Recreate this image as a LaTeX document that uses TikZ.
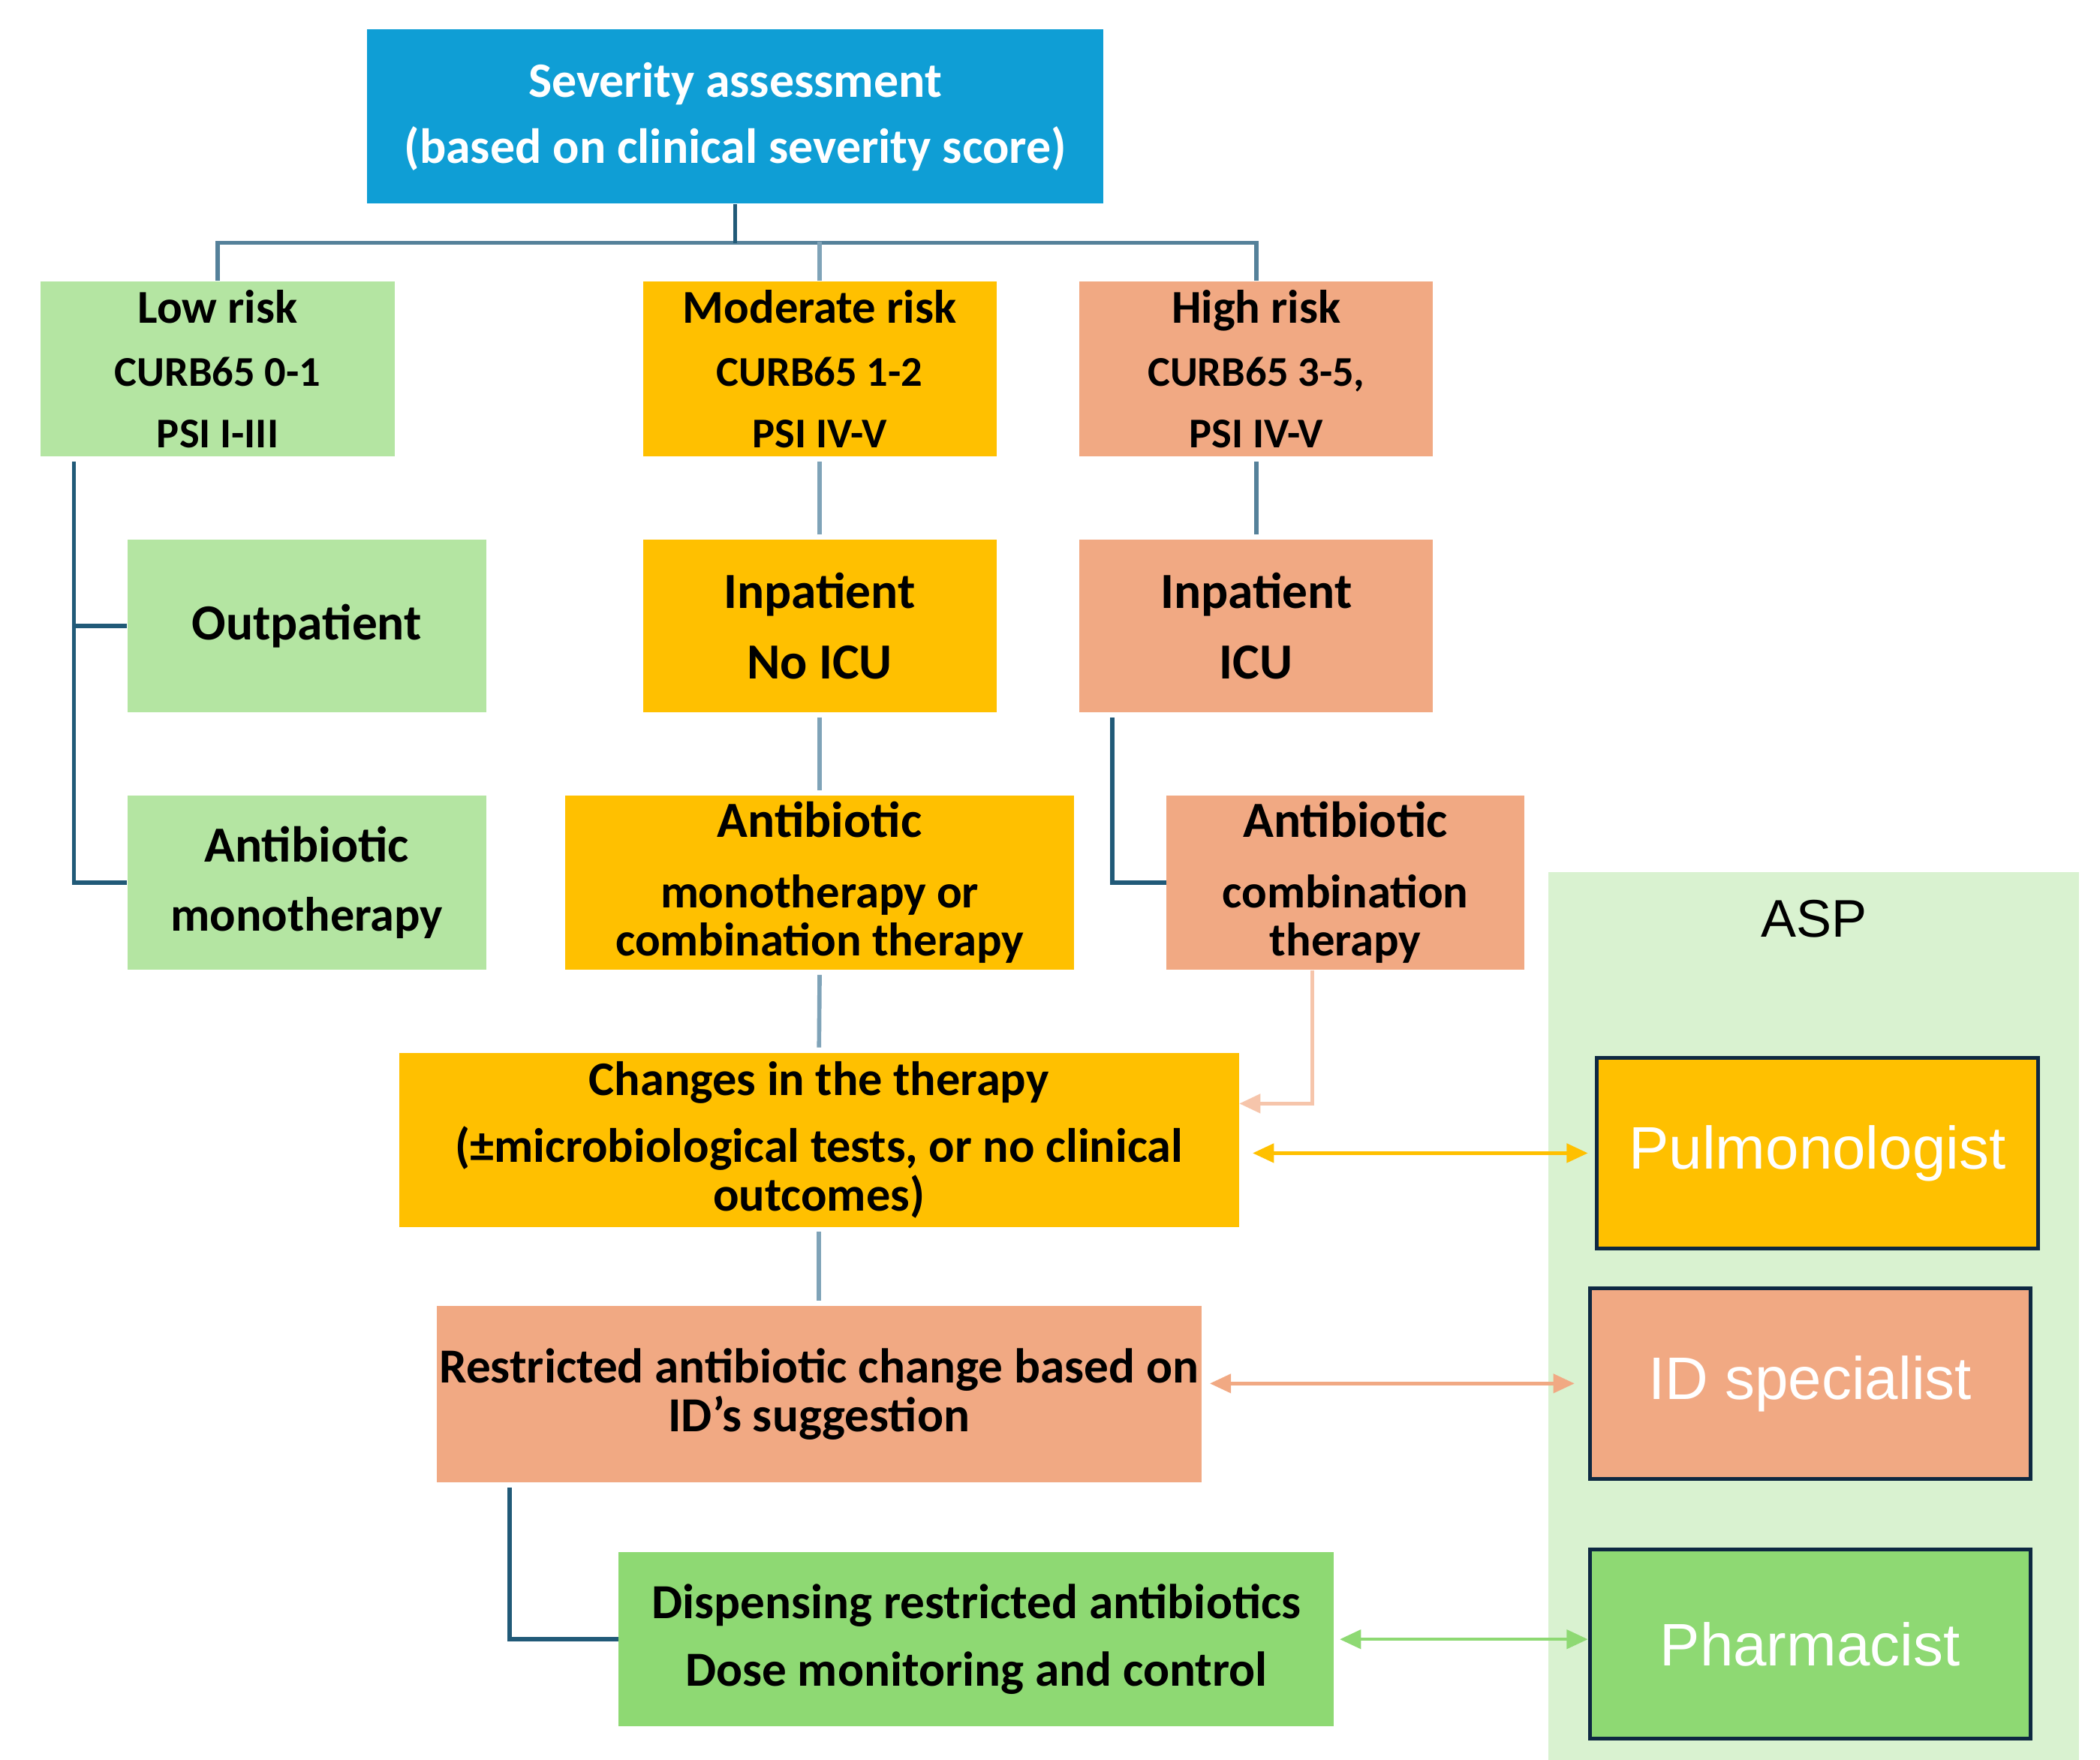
\documentclass[tikz,border=0pt]{standalone}
\usepackage{fontspec}
\setmainfont{Carlito}
\newfontfamily\aspfont{Liberation Sans}
\usetikzlibrary{arrows.meta}
\definecolor{sevblue}{HTML}{0F9ED5}
\definecolor{lowgreen}{HTML}{B4E5A2}
\definecolor{modyellow}{HTML}{FFC000}
\definecolor{highsalmon}{HTML}{F1A983}
\definecolor{dispgreen}{HTML}{8ED973}
\definecolor{aspbg}{HTML}{D9F2D0}
\definecolor{navyedge}{HTML}{0E2841}
\definecolor{treedark}{HTML}{215A78}
\definecolor{treemid}{HTML}{55819A}
\definecolor{treelight}{HTML}{7FA3B8}
\definecolor{palesalmon}{HTML}{F6C5AB}

\begin{document}
\begin{tikzpicture}[
    box/.style={rectangle, inner sep=0pt, align=center, font=\bfseries\fontsize{20.5}{20.5}\selectfont},
    risk/.style={box, minimum width=5.28cm, minimum height=2.62cm, font=\bfseries\fontsize{18}{20}\selectfont},
    stage/.style={box, minimum height=2.58cm, font=\bfseries\fontsize{21.5}{21}\selectfont},
    aspbox/.style={rectangle, draw=navyedge, line width=1.6pt, inner sep=0pt, text=white, font=\aspfont\fontsize{25.5}{28}\selectfont},
    tree/.style={line width=1.8pt},
    link/.style={line width=1.4pt, {Triangle[length=9pt,width=8pt]}-{Triangle[length=9pt,width=8pt]}}
]
\useasboundingbox (0,0) rectangle (31.36,-26.28);

% Severity assessment
\node[box, fill=sevblue, text=white, minimum width=11cm, minimum height=2.6cm, font=\bfseries\fontsize{21}{21}\selectfont] (sev) at (10.98,-1.74) {Severity assessment\\[7pt](based on clinical severity score)};

% Risk groups
\node[risk, fill=lowgreen] (low) at (3.25,-5.51) {{\fontsize{20}{20}\selectfont Low risk}\\[7pt]CURB65 0-1\\[6pt]PSI I-III};
\node[risk, fill=modyellow] (mod) at (12.24,-5.51) {{\fontsize{20}{20}\selectfont Moderate risk}\\[7pt]CURB65 1-2\\[6pt]PSI IV-V};
\node[risk, fill=highsalmon] (high) at (18.76,-5.51) {{\fontsize{20}{20}\selectfont High risk}\\[7pt]CURB65 3-5,\\[6pt]PSI IV-V};

% Setting of care
\node[stage, fill=lowgreen, minimum width=5.36cm] (outp) at (4.58,-9.35) {Outpatient};
\node[stage, fill=modyellow, minimum width=5.28cm] (inpno) at (12.24,-9.35) {Inpatient\\[9pt]No ICU};
\node[stage, fill=highsalmon, minimum width=5.28cm] (inpicu) at (18.76,-9.35) {Inpatient\\[9pt]ICU};

% Antibiotic treatment
\node[box, fill=lowgreen, minimum width=5.36cm, minimum height=2.6cm, font=\bfseries\fontsize{20.5}{21}\selectfont] (mono) at (4.58,-13.18) {{\fontsize{21.5}{21}\selectfont Antibiotic}\\[8.5pt]monotherapy};
\node[box, fill=modyellow, minimum width=7.6cm, minimum height=2.6cm, font=\bfseries\fontsize{20}{20.5}\selectfont] (monocomb) at (12.24,-13.18) {{\fontsize{21.5}{21}\selectfont Antibiotic}\\[9.5pt]monotherapy or\\combination therapy};
\node[box, fill=highsalmon, minimum width=5.34cm, minimum height=2.6cm, font=\bfseries\fontsize{20}{20.5}\selectfont] (comb) at (20.09,-13.18) {{\fontsize{21.5}{21}\selectfont Antibiotic}\\[9.5pt]combination\\therapy};

% Follow-up
\node[box, fill=modyellow, minimum width=12.54cm, minimum height=2.6cm] (changes) at (12.23,-17.02) {Changes in the therapy\\[8pt](±microbiological tests, or no clinical\\outcomes)};
\node[box, fill=highsalmon, minimum width=11.42cm, minimum height=2.64cm, font=\bfseries\fontsize{20.8}{20.5}\selectfont] (restr) at (12.23,-20.82) {Restricted antibiotic change based on\\ID's suggestion};
\node[box, fill=dispgreen, minimum width=10.68cm, minimum height=2.6cm, font=\bfseries\fontsize{20.8}{20.5}\selectfont] (disp) at (14.58,-24.48) {Dispensing restricted antibiotics\\[8pt]Dose monitoring and control};

% ASP panel
\node[fill=aspbg, minimum width=7.92cm, minimum height=13.26cm, inner sep=0pt, anchor=north west] (asp) at (23.12,-13.02) {};
\node[font=\aspfont\fontsize{22.5}{24}\selectfont] (asplabel) at ([yshift=-0.7cm]asp.north) {ASP};
\node[aspbox, fill=modyellow, minimum width=6.6cm, minimum height=2.84cm] (pulm) at (27.14,-17.22) {Pulmonologist};
\node[aspbox, fill=highsalmon, minimum width=6.58cm, minimum height=2.84cm] (idsp) at (27.03,-20.66) {ID specialist};
\node[aspbox, fill=dispgreen, minimum width=6.58cm, minimum height=2.82cm] (pharm) at (27.03,-24.55) {Pharmacist};

% Tree connectors
\draw[tree, treemid] (sev.south) -- ++(0,-0.58) -| (low.north);
\draw[tree, treemid] (sev.south) -- ++(0,-0.58) -| (high.north);
\draw[tree, treedark] (sev.south) -- ++(0,-0.58);
\draw[tree, treelight] (mod.north) -- ++(0,0.58);

\coordinate (lowtrunk) at ([xshift=0.5cm]low.south west);
\draw[tree, treedark, shorten <=2pt] (lowtrunk) |- (mono.west);
\draw[tree, treedark] (lowtrunk |- outp.west) -- (outp.west);

\draw[tree, treelight, shorten <=2pt, shorten >=2pt] (mod.south) -- (inpno.north);
\draw[tree, treelight, shorten <=2pt, shorten >=2pt] (inpno.south) -- (monocomb.north);
\draw[tree, treelight, shorten <=2pt, shorten >=2pt] (monocomb.south) -- (changes.north);
\draw[tree, treelight, shorten <=2pt, shorten >=2pt] (changes.south) -- (restr.north);

\draw[tree, treemid, shorten <=2pt, shorten >=2pt] (high.south) -- (inpicu.north);
\coordinate (icutrunk) at ([xshift=0.5cm]inpicu.south west);
\draw[tree, treedark, shorten <=2pt] (icutrunk) |- (comb.west);

\coordinate (restrtrunk) at ([xshift=1.1cm]restr.south west);
\draw[tree, treedark, shorten <=2pt] (restrtrunk) |- (disp.west);

% Arrows to the ASP
\draw[palesalmon, line width=1.6pt, -{Triangle[length=9pt,width=8pt]}] ([xshift=-0.49cm]comb.south) |- ([yshift=0.54cm]changes.east);
\draw[link, modyellow, shorten <=0.2cm, shorten >=0.1cm] (changes.east |- pulm.west) -- (pulm.west);
\draw[link, highsalmon, shorten <=0.12cm, shorten >=0.2cm] (restr.east |- idsp.west) -- (idsp.west);
\draw[link, dispgreen, shorten <=0.08cm] (disp.east) -- (disp.east -| pharm.west);
\end{tikzpicture}
\end{document}
